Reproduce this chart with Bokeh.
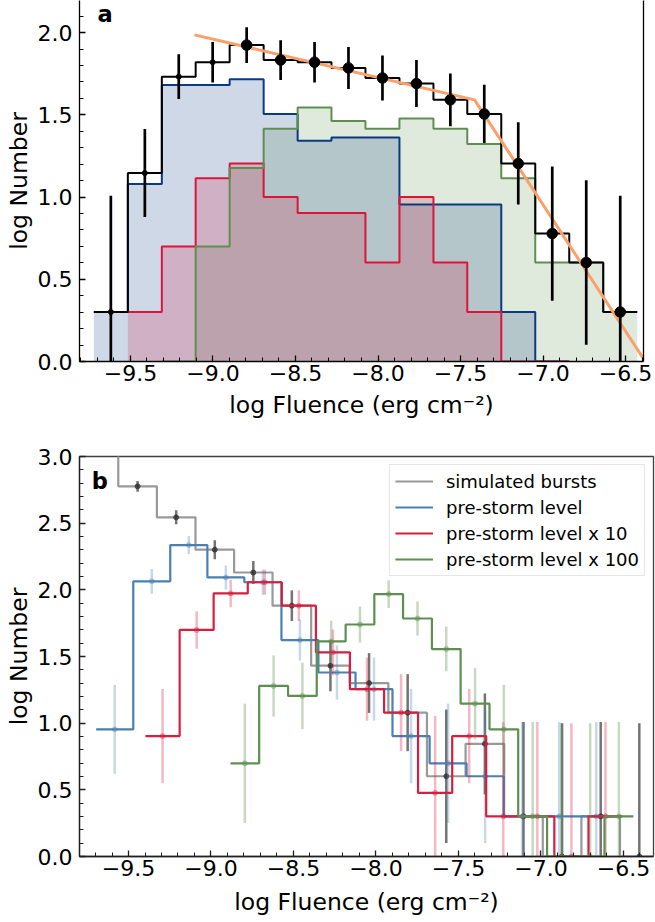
import numpy as np
from bokeh.plotting import figure
from bokeh.models import (ColumnDataSource, LinearAxis, FixedTicker, CustomJSTickFormatter,
                          Range1d, Legend, LegendItem, Label)
from bokeh.layouts import column
from bokeh.embed import file_html
from bokeh.resources import INLINE

FONT = "DejaVu Sans"

# ---------------- panel a data (log10 counts per bin) ----------------
a_edges = [-9.722, -9.516, -9.310, -9.105, -8.899, -8.693, -8.487, -8.282, -8.076,
           -7.870, -7.664, -7.459, -7.253, -7.047, -6.841, -6.635, -6.429]
a_all = [0.301, 1.146, 1.732, 1.820, 1.924, 1.833, 1.820, 1.785, 1.724, 1.690,
         1.591, 1.505, 1.204, 0.778, 0.602, 0.301]
a_all_err = [0.707, 0.267, 0.136, 0.123, 0.109, 0.121, 0.123, 0.128, 0.137, 0.143,
             0.160, 0.177, 0.250, 0.408, 0.500, 0.707]
a_in_fit = [False, False, False, False, True, True, True, True, True, True,
            True, True, True, True, True, True]
a_blue = [0.301, 1.079, 1.681, 1.681, 1.716, 1.505, 1.342, 1.362, 1.362, 0.954,
          0.954, 0.954, 0.301, 0.0, None, None]
a_red = [None, 0.301, 0.699, 1.114, 1.204, 1.000, 0.903, 0.903, 0.602, 1.000,
         0.602, 0.301, 0.0, 0.0, None, None]
a_green = [None, None, 0.0, 0.699, 1.176, 1.415, 1.544, 1.462, 1.415, 1.477,
           1.415, 1.322, 1.114, 0.602, 0.602, 0.301]
a_fit_x = [-9.112, -7.415, -6.38]
a_fit_y = [1.986, 1.591, 0.0]

# ---------------- panel b data ----------------
b_sim_edges = [-9.796, -9.562, -9.328, -9.094, -8.860, -8.627, -8.393, -8.159,
               -7.925, -7.691, -7.457, -7.223, -6.989, -6.755, -6.521, -6.287]
b_sim = [3.100, 2.776, 2.544, 2.301, 2.130, 1.881, 1.431, 1.301, 1.079, 0.602,
         0.845, 0.301, 0.0, 0.301, 0.0]
b_sim_err = [0.028, 0.041, 0.053, 0.071, 0.086, 0.115, 0.192, 0.224, 0.289, 0.500,
             0.378, 0.707, 1.000, 0.707, 1.000]

b_pre_edges = [-9.696, -9.471, -9.247, -9.022, -8.798, -8.573, -8.349, -8.124,
               -7.900, -7.675, -7.451, -7.226, -7.002, -6.777, -6.553, -6.328]
b_pre = [0.954, 2.064, 2.336, 2.093, 2.057, 1.623, 1.380, 1.255, 0.903, 0.699,
         0.602, 0.301, 0.301, 0.301, None]
b_pre_err = [0.333, 0.093, 0.068, 0.090, 0.094, 0.154, 0.204, 0.236, 0.354, 0.447,
             0.500, 0.707, 0.707, 0.707, None]

b_x10_edges = [-9.397, -9.190, -8.984, -8.777, -8.571, -8.364, -8.158, -7.951,
               -7.745, -7.538, -7.332, -7.125, -6.919, -6.712, -6.506, -6.299]
b_x10 = [0.903, 1.699, 1.973, 2.057, 1.881, 1.531, 1.255, 1.079, 0.477, 0.903,
         0.301, 0.301, 0.0, 0.301, None]
b_x10_err = [0.354, 0.141, 0.103, 0.094, 0.115, 0.171, 0.236, 0.289, 0.577, 0.354,
             0.707, 0.707, 1.000, 0.707, None]

b_x100_edges = [-8.882, -8.708, -8.533, -8.359, -8.184, -8.010, -7.836, -7.661,
                -7.487, -7.312, -7.138, -6.963, -6.789, -6.615, -6.440]
b_x100 = [0.699, 1.279, 1.204, 1.613, 1.740, 1.968, 1.785, 1.556, 1.146, 0.954,
          0.301, 0.0, 0.0, 0.301]
b_x100_err = [0.447, 0.229, 0.250, 0.156, 0.135, 0.104, 0.128, 0.167, 0.267, 0.333,
              0.707, 1.000, 1.000, 0.707]

b_labels = ["simulated bursts", "pre-storm level", "pre-storm level x 10", "pre-storm level x 100"]

x_ticks = [-9.5, -9.0, -8.5, -8.0, -7.5, -7.0, -6.5]
a_y_ticks = [0.0, 0.5, 1.0, 1.5, 2.0]
b_y_ticks = [0.0, 0.5, 1.0, 1.5, 2.0, 2.5, 3.0]


# ---------------- helpers ----------------
def stairs(edges, vals):
    xs, ys = [], []
    for i, v in enumerate(vals):
        y = float("nan") if v is None else v
        xs += [edges[i], edges[i + 1]]
        ys += [y, y]
    return xs, ys


def centers(edges):
    return [(edges[i] + edges[i + 1]) / 2.0 for i in range(len(edges) - 1)]


def err_source(edges, vals, errs):
    xs, ys, lo, hi = [], [], [], []
    for c, v, e in zip(centers(edges), vals, errs):
        if v is None or e is None:
            continue
        xs.append(c); ys.append(v); lo.append(v - e); hi.append(v + e)
    return ColumnDataSource(dict(x=xs, y=ys, lo=lo, hi=hi))


fmt_code = "return tick.toFixed(1).replace('-', '\u2212');"


def style_axis(ax, major, minor, color="black"):
    ax.ticker = FixedTicker(ticks=major, minor_ticks=minor)
    ax.formatter = CustomJSTickFormatter(code=fmt_code)
    ax.axis_line_color = color
    ax.axis_line_width = 1.3
    ax.major_tick_line_color = color
    ax.minor_tick_line_color = color
    ax.major_tick_in = 6
    ax.major_tick_out = 0
    ax.minor_tick_in = 4
    ax.minor_tick_out = 0
    ax.major_tick_line_width = 1.3
    ax.minor_tick_line_width = 1.0
    ax.major_label_text_font = FONT
    ax.major_label_text_font_size = "22px"
    ax.major_label_text_color = "black"
    ax.axis_label_text_font = FONT
    ax.axis_label_text_font_size = "23.5px"
    ax.axis_label_text_font_style = "normal"
    ax.axis_label_text_color = "black"


x_minor = [round(v, 2) for v in np.arange(-9.9, -6.2, 0.1)]
a_y_minor = [round(v, 2) for v in np.arange(0.0, 2.25, 0.1)]
b_y_minor = [round(v, 2) for v in np.arange(0.0, 3.05, 0.1)]

# ---------------- panel a ----------------
p1 = figure(frame_width=564, frame_height=361,
            x_range=Range1d(-9.809, -6.391), y_range=Range1d(0.0, 2.195),
            output_backend="svg", toolbar_location=None,
            min_border_left=79, min_border_right=12, min_border_top=0, min_border_bottom=69)
p1.xgrid.visible = False
p1.ygrid.visible = False
p1.outline_line_color = None

BLUE_A = "#0a3a80"
RED = "#dc143c"
GREEN = "#5f8f50"

for vals, col in [(a_green, GREEN), (a_blue, BLUE_A), (a_red, RED)]:
    xs, ys = stairs(a_edges, vals)
    yf = [0.0 if np.isnan(y) else y for y in ys]
    p1.varea(x=xs, y1=[0.0] * len(xs), y2=yf, fill_color=col, fill_alpha=0.2)

for vals, col in [(a_blue, BLUE_A), (a_red, RED), (a_green, GREEN)]:
    xs, ys = stairs(a_edges, vals)
    p1.line(xs, ys, line_color=col, line_width=2.0)

xs, ys = stairs(a_edges, a_all)
p1.line(xs, ys, line_color="black", line_width=2.0)

p1.line(a_fit_x, a_fit_y, line_color="#f9a06b", line_width=3.0)

src_a = err_source(a_edges, a_all, a_all_err)
p1.segment(x0="x", y0="lo", x1="x", y1="hi", source=src_a, line_color="black", line_width=2.7)
ac = centers(a_edges)
big_x = [c for c, f in zip(ac, a_in_fit) if f]
big_y = [v for v, f in zip(a_all, a_in_fit) if f]
sm_x = [c for c, f in zip(ac, a_in_fit) if not f]
sm_y = [v for v, f in zip(a_all, a_in_fit) if not f]
p1.scatter(big_x, big_y, size=10.5, color="black")
p1.scatter(sm_x, sm_y, size=5, color="black")

style_axis(p1.xaxis[0], x_ticks, x_minor)
style_axis(p1.yaxis[0], a_y_ticks, a_y_minor)
p1.xaxis.axis_label = "log Fluence (erg cm\u207b\u00b2)"
p1.yaxis.axis_label = "log Number"
p1.xaxis.major_label_standoff = 3
p1.yaxis.major_label_standoff = 7
p1.xaxis.axis_label_standoff = 7
p1.yaxis.axis_label_standoff = 2

ra = LinearAxis(ticker=FixedTicker(ticks=[]), major_label_text_font_size="0px",
                axis_line_color="black", axis_line_width=1.3,
                major_tick_in=0, major_tick_out=0, minor_tick_in=0, minor_tick_out=0)
p1.add_layout(ra, "right")

p1.add_layout(Label(x=-9.70, y=2.19, text="a", text_font=FONT, text_font_size="22.5px",
                    text_font_style="bold", text_color="black", text_baseline="top"))

# ---------------- panel b ----------------
p2 = figure(frame_width=574, frame_height=400,
            x_range=Range1d(-9.797, -6.318), y_range=Range1d(0.0, 3.0),
            output_backend="svg", toolbar_location=None,
            min_border_left=79, min_border_right=2, min_border_top=26, min_border_bottom=66)
p2.xgrid.visible = False
p2.ygrid.visible = False
p2.outline_line_color = "#404040"
p2.outline_line_width = 1.3

series = [
    (b_sim_edges, b_sim, b_sim_err, "#999999", "#2a2a2a", 0.65),
    (b_pre_edges, b_pre, b_pre_err, "#4a80b2", "#4682b4", 0.3),
    (b_x10_edges, b_x10, b_x10_err, "#d81e3e", "#dc143c", 0.3),
    (b_x100_edges, b_x100, b_x100_err, "#5d9050", "#5f8f50", 0.35),
]
renderers = []
for edges, vals, errs, lc, ec, ea in series:
    xs, ys = stairs(edges, vals)
    r = p2.line(xs, ys, line_color=lc, line_width=2.2)
    renderers.append(r)
    src = err_source(edges, vals, errs)
    p2.segment(x0="x", y0="lo", x1="x", y1="hi", source=src, line_color=ec,
               line_alpha=ea, line_width=2.5)
    p2.scatter(x="x", y="y", source=src, size=5, color=ec, alpha=ea)

style_axis(p2.xaxis[0], x_ticks, x_minor, color="#202020")
style_axis(p2.yaxis[0], b_y_ticks, b_y_minor, color="#202020")
p2.xaxis.axis_label = "log Fluence (erg cm\u207b\u00b2)"
p2.yaxis.axis_label = "log Number"
p2.xaxis.major_label_standoff = 3
p2.yaxis.major_label_standoff = 7
p2.xaxis.axis_label_standoff = 9
p2.yaxis.axis_label_standoff = 2

legend = Legend(items=[LegendItem(label=lab, renderers=[r]) for lab, r in zip(b_labels, renderers)],
                location="top_right")
legend.label_text_font = FONT
legend.label_text_font_size = "18px"
legend.label_text_color = "black"
legend.glyph_width = 38
legend.glyph_height = 22
legend.label_height = 22
legend.spacing = 4
legend.padding = 5
legend.margin = 8
legend.label_standoff = 13
legend.border_line_color = "#cccccc"
legend.border_line_width = 1.2
legend.background_fill_alpha = 0.8
p2.add_layout(legend)

p2.add_layout(Label(x=-9.722, y=2.916, text="b", text_font=FONT, text_font_size="22.5px",
                    text_font_style="bold", text_color="black", text_baseline="top"))

layout = column(p1, p2, spacing=0)
open("out.html", "w").write(file_html(layout, INLINE))
